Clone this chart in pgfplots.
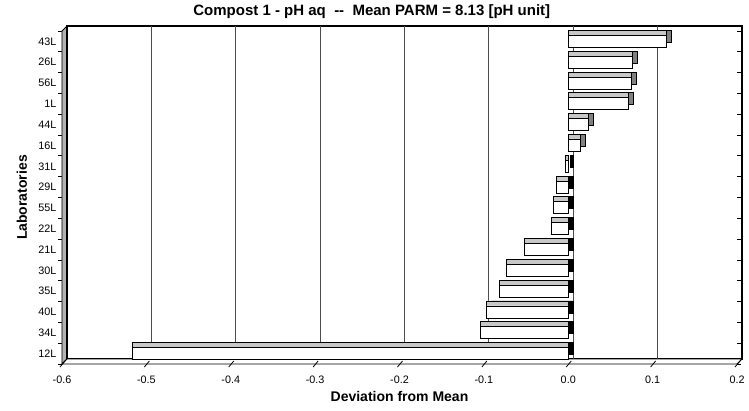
\documentclass[border=0pt]{standalone}
\usepackage{pgfplots}
\pgfplotsset{compat=1.18}
\usepackage{pgfplotstable}
\usepackage{fontspec}
\setmainfont{Liberation Sans}

% deviation of each laboratory from the mean (pH unit)
\pgfplotstableread{
idx lab dev
0 12L -0.516
1 34L -0.104
2 40L -0.097
3 35L -0.082
4 30L -0.073
5 21L -0.052
6 22L -0.020
7 55L -0.018
8 29L -0.014
9 31L -0.003
10 16L 0.014
11 44L 0.024
12 1L 0.071
13 56L 0.075
14 26L 0.076
15 43L 0.116
}\labdata

\begin{document}
\begin{tikzpicture}
\useasboundingbox (-62pt,-46pt) rectangle (687pt,364pt);
\begin{axis}[
    at={(0,0)}, anchor=south west,
    scale only axis,
    width=675pt, height=333pt,
    xmin=-0.6, xmax=0.2,
    ymin=-0.5, ymax=15.5,
    clip=false,
    axis line style={draw=none},
    xtick={-0.6,-0.5,-0.4,-0.3,-0.2,-0.1,0,0.1,0.2},
    ytick={0,...,15},
    yticklabels from table={\labdata}{lab},
    minor ytick={-0.5,0.5,...,15.5},
    major tick length=0pt,
    minor tick length=4pt,
    tick align=outside,
    tick style={black, line width=0.8pt},
    xticklabel style={font=\fontsize{10.8}{13}\selectfont, yshift=-8pt,
        /pgf/number format/.cd, fixed, fixed zerofill, precision=1, assume math mode=true},
    yticklabel style={font=\fontsize{10.8}{13}\selectfont, xshift=-2pt},
    xlabel={Deviation from Mean},
    xlabel style={font=\bfseries\fontsize{14}{16}\selectfont, at={(axis description cs:0.5,-0.099)}, anchor=center},
    ylabel={Laboratories},
    ylabel style={font=\bfseries\fontsize{14}{16}\selectfont, at={(axis description cs:-0.0593,0.5)}, anchor=center},
]
% back wall and grid
\draw[line width=1.4pt] ([shift={(5pt,5pt)}]axis cs:-0.6,-0.5) rectangle ([shift={(5pt,5pt)}]axis cs:0.2,15.5);
\pgfplotsinvokeforeach{-0.5,-0.4,-0.3,-0.2,-0.1,0,0.1}{
  \draw[gray!60!black, line width=0.8pt] ([shift={(5pt,5pt)}]axis cs:#1,-0.5) -- ([shift={(5pt,5pt)}]axis cs:#1,15.5);
}
% left wall
\filldraw[fill=gray!60, draw=black, line width=0.8pt] (axis cs:-0.6,-0.5) -- (axis cs:-0.6,15.5)
  -- ([shift={(5pt,5pt)}]axis cs:-0.6,15.5) -- ([shift={(5pt,5pt)}]axis cs:-0.6,-0.5) -- cycle;
\draw[line width=1.4pt] ([shift={(5pt,5pt)}]axis cs:-0.6,-0.5) -- ([shift={(5pt,5pt)}]axis cs:-0.6,15.5);
% floor
\filldraw[fill=white, draw=black, line width=0.9pt] (axis cs:-0.6,-0.5) -- (axis cs:0.2,-0.5)
  -- ([shift={(5pt,5pt)}]axis cs:0.2,-0.5) -- ([shift={(5pt,5pt)}]axis cs:-0.6,-0.5) -- cycle;
\pgfplotsinvokeforeach{-0.6,-0.5,-0.4,-0.3,-0.2,-0.1,0,0.1,0.2}{
  \draw[line width=0.8pt] ([shift={(-2pt,-3pt)}]axis cs:#1,-0.5) -- ([shift={(3pt,3pt)}]axis cs:#1,-0.5);
}

% bars: end faces, top faces, front faces
\addplot[xbar, bar shift=0pt, bar width=12pt, fill=black!50, draw=black, line width=0.9pt,
  xshift=5pt, yshift=5pt, restrict x to domain=0:1] table[x=dev, y=idx]{\labdata};
\addplot[xbar, bar shift=0pt, bar width=12pt, fill=black, draw=black, line width=0.9pt,
  xshift=5pt, yshift=5pt, restrict x to domain=-1:0] table[x=dev, y=idx]{\labdata};
\addplot[xbar, bar shift=0pt, bar width=12pt, fill=black!22, draw=black, line width=0.9pt,
  yshift=5pt] table[x=dev, y=idx]{\labdata};
\addplot[xbar, bar shift=0pt, bar width=12pt, fill=white, draw=black, line width=0.9pt]
  table[x=dev, y=idx]{\labdata};

\node[font=\bfseries\fontsize{15}{18}\selectfont] at (rel axis cs:0.459,1.057)
  {Compost 1 - pH aq\ \ -{}-\ \ Mean PARM = 8.13 [pH unit]};
\end{axis}
\end{tikzpicture}
\end{document}
